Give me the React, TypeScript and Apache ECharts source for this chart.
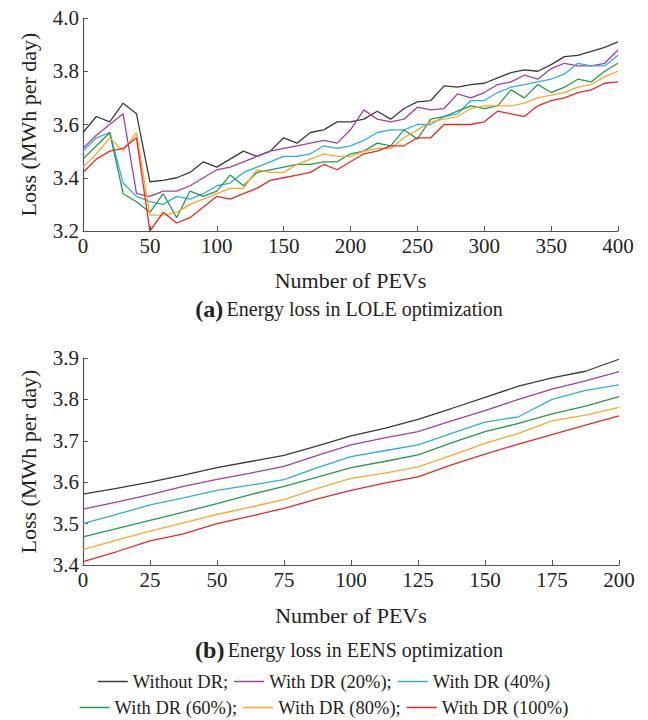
import React, { useEffect, useRef } from "react";
import * as echarts from "echarts";

const seriesNames = [
  "Without DR",
  "With DR (20%)",
  "With DR (40%)",
  "With DR (60%)",
  "With DR (80%)",
  "With DR (100%)",
];
const seriesColors = ["#3a3a3a", "#a63ca8", "#2eaedc", "#259a4c", "#f6a92c", "#e62a26"];

// (a) LOLE optimization, x = 0..400 step 10
const xA = [
  0, 10, 20, 30, 40, 50, 60, 70, 80, 90, 100, 110, 120, 130, 140, 150, 160, 170, 180, 190, 200,
  210, 220, 230, 240, 250, 260, 270, 280, 290, 300, 310, 320, 330, 340, 350, 360, 370, 380, 390, 400,
];
const aWithout = [
  3.57, 3.63, 3.61, 3.68, 3.64, 3.385, 3.39, 3.40, 3.42, 3.46, 3.44, 3.47, 3.50, 3.48, 3.50, 3.55,
  3.53, 3.57, 3.58, 3.61, 3.61, 3.62, 3.65, 3.62, 3.66, 3.685, 3.69, 3.745, 3.74, 3.75, 3.755, 3.775,
  3.795, 3.805, 3.80, 3.825, 3.855, 3.86, 3.875, 3.89, 3.91,
];
const a20 = [
  3.51, 3.56, 3.60, 3.64, 3.34, 3.33, 3.35, 3.35, 3.37, 3.40, 3.43, 3.44, 3.46, 3.48, 3.50, 3.51,
  3.52, 3.53, 3.54, 3.53, 3.58, 3.655, 3.62, 3.61, 3.62, 3.665, 3.655, 3.66, 3.715, 3.70, 3.72, 3.75,
  3.76, 3.785, 3.77, 3.81, 3.83, 3.82, 3.82, 3.83, 3.88,
];
const a40 = [
  3.50, 3.55, 3.57, 3.38, 3.33, 3.31, 3.30, 3.33, 3.32, 3.34, 3.37, 3.38, 3.42, 3.44, 3.46, 3.48,
  3.48, 3.49, 3.52, 3.51, 3.52, 3.54, 3.57, 3.58, 3.58, 3.60, 3.60, 3.63, 3.64, 3.69, 3.69, 3.72,
  3.74, 3.75, 3.76, 3.77, 3.79, 3.83, 3.82, 3.82, 3.86,
];
const a60 = [
  3.47, 3.52, 3.57, 3.34, 3.31, 3.27, 3.34, 3.25, 3.35, 3.33, 3.35, 3.41, 3.37, 3.42, 3.43, 3.44,
  3.45, 3.45, 3.46, 3.46, 3.49, 3.50, 3.53, 3.52, 3.58, 3.545, 3.62, 3.63, 3.65, 3.67, 3.66, 3.67,
  3.73, 3.70, 3.75, 3.72, 3.74, 3.77, 3.76, 3.80, 3.83,
];
const a80 = [
  3.44, 3.49, 3.55, 3.50, 3.57, 3.26, 3.26, 3.27, 3.30, 3.32, 3.34, 3.36, 3.36, 3.43, 3.42, 3.42,
  3.45, 3.47, 3.49, 3.48, 3.48, 3.50, 3.51, 3.51, 3.55, 3.58, 3.61, 3.62, 3.63, 3.66, 3.67, 3.67,
  3.67, 3.68, 3.70, 3.71, 3.72, 3.74, 3.75, 3.78, 3.80,
];
const a100 = [
  3.42, 3.47, 3.50, 3.51, 3.55, 3.20, 3.27, 3.23, 3.25, 3.29, 3.33, 3.32, 3.34, 3.36, 3.39, 3.40,
  3.41, 3.42, 3.45, 3.43, 3.46, 3.49, 3.50, 3.52, 3.52, 3.55, 3.55, 3.60, 3.60, 3.60, 3.61, 3.65,
  3.64, 3.63, 3.67, 3.69, 3.70, 3.72, 3.73, 3.755, 3.76,
];

// (b) EENS optimization, x = 0..200 step 12.5
const xB = [0, 12.5, 25, 37.5, 50, 62.5, 75, 87.5, 100, 112.5, 125, 137.5, 150, 162.5, 175, 187.5, 200];
const bWithout = [3.571, 3.585, 3.6, 3.617, 3.635, 3.65, 3.665, 3.688, 3.712, 3.73, 3.752, 3.778, 3.805, 3.832, 3.852, 3.868, 3.897];
const b20 = [3.535, 3.552, 3.57, 3.59, 3.607, 3.622, 3.638, 3.665, 3.69, 3.707, 3.722, 3.748, 3.773, 3.8, 3.825, 3.845, 3.867];
const b40 = [3.5, 3.522, 3.545, 3.562, 3.58, 3.593, 3.606, 3.635, 3.662, 3.676, 3.69, 3.718, 3.745, 3.758, 3.8, 3.822, 3.835];
const b60 = [3.468, 3.488, 3.508, 3.528, 3.548, 3.57, 3.59, 3.612, 3.635, 3.65, 3.666, 3.695, 3.722, 3.742, 3.765, 3.784, 3.807];
const b80 = [3.437, 3.46, 3.482, 3.502, 3.522, 3.54, 3.558, 3.585, 3.609, 3.622, 3.637, 3.665, 3.694, 3.718, 3.748, 3.762, 3.781];
const b100 = [3.408, 3.432, 3.458, 3.475, 3.5, 3.518, 3.537, 3.56, 3.58, 3.598, 3.613, 3.642, 3.668, 3.692, 3.715, 3.738, 3.76];

const aData = [aWithout, a20, a40, a60, a80, a100];
const bData = [bWithout, b20, b40, b60, b80, b100];

const FONT = "'Liberation Serif', 'Times New Roman', serif";
const TXT = "#222";

function valueAxisCommon(min: number, max: number, interval: number, decimals: number) {
  return {
    type: "value" as const,
    min,
    max,
    interval,
    axisLine: { show: true, lineStyle: { color: "#555", width: 1.2 } },
    axisTick: { show: true, inside: true, length: 5, lineStyle: { color: "#555" } },
    splitLine: { show: false },
    axisLabel: {
      color: TXT,
      fontFamily: FONT,
      fontSize: 21,
      margin: 4,
      formatter: (v: number) => (decimals > 0 ? v.toFixed(decimals) : String(v)),
    },
  };
}

export default function App() {
  const ref = useRef<HTMLDivElement>(null);
  useEffect(() => {
    document.body.style.margin = "0";
    const chart = echarts.init(ref.current!, undefined, { renderer: "svg" });
    const series: any[] = [];
    seriesNames.forEach((name, i) => {
      series.push({
        name,
        type: "line",
        xAxisIndex: 0,
        yAxisIndex: 0,
        symbol: "none",
        color: seriesColors[i],
        lineStyle: { width: 1.3, color: seriesColors[i] },
        data: xA.map((x, j) => [x, aData[i][j]]),
      });
    });
    seriesNames.forEach((name, i) => {
      series.push({
        name,
        type: "line",
        xAxisIndex: 1,
        yAxisIndex: 1,
        symbol: "none",
        color: seriesColors[i],
        lineStyle: { width: 1.3, color: seriesColors[i] },
        data: xB.map((x, j) => [x, bData[i][j]]),
      });
    });
    const withSemi = (name: string) =>
      name === "With DR (40%)" || name === "With DR (100%)" ? name : name + ";";
    const legendCommon = {
      orient: "horizontal" as const,
      icon: "rect",
      itemWidth: 30,
      itemHeight: 1.5,
      itemGap: 6,
      selectedMode: false,
      textStyle: { color: TXT, fontFamily: FONT, fontSize: 18.5 },
      formatter: withSemi,
    };
    chart.setOption({
      animation: false,
      backgroundColor: "#fff",
      grid: [
        { left: 83, top: 18, width: 535, height: 213 },
        { left: 83, top: 358, width: 536, height: 207 },
      ],
      xAxis: [
        {
          ...valueAxisCommon(0, 400, 50, 0),
          gridIndex: 0,
          name: "Number of PEVs",
          nameLocation: "middle",
          nameGap: 38,
          nameTextStyle: { color: TXT, fontFamily: FONT, fontSize: 22 },
        },
        {
          ...valueAxisCommon(0, 200, 25, 0),
          gridIndex: 1,
          name: "Number of PEVs",
          nameLocation: "middle",
          nameGap: 39,
          nameTextStyle: { color: TXT, fontFamily: FONT, fontSize: 22 },
        },
      ],
      yAxis: [
        {
          ...valueAxisCommon(3.2, 4.0, 0.2, 1),
          gridIndex: 0,
          name: "Loss (MWh per day)",
          nameLocation: "middle",
          nameGap: 44,
          nameTextStyle: { color: TXT, fontFamily: FONT, fontSize: 22 },
        },
        {
          ...valueAxisCommon(3.4, 3.9, 0.1, 1),
          gridIndex: 1,
          name: "Loss (MWh per day)",
          nameLocation: "middle",
          nameGap: 44,
          nameTextStyle: { color: TXT, fontFamily: FONT, fontSize: 22 },
        },
      ],
      legend: [
        { ...legendCommon, top: 667, left: "center", data: seriesNames.slice(0, 3) },
        { ...legendCommon, top: 693, left: "center", data: seriesNames.slice(3) },
      ],
      graphic: [
        {
          type: "text",
          x: 349,
          y: 309,
          style: {
            text: "{b|(a)} {n|Energy loss in LOLE optimization}",
            align: "center",
            verticalAlign: "middle",
            rich: {
              b: { fontFamily: FONT, fontSize: 24, fontWeight: "bold", fill: TXT },
              n: { fontFamily: FONT, fontSize: 20, fill: TXT },
            },
          },
        },
        {
          type: "text",
          x: 349,
          y: 650,
          style: {
            text: "{b|(b)} {n|Energy loss in EENS optimization}",
            align: "center",
            verticalAlign: "middle",
            rich: {
              b: { fontFamily: FONT, fontSize: 24, fontWeight: "bold", fill: TXT },
              n: { fontFamily: FONT, fontSize: 20, fill: TXT },
            },
          },
        },
      ],
      series,
    });
    return () => chart.dispose();
  }, []);
  return <div ref={ref} style={{ width: 648, height: 720 }} />;
}
